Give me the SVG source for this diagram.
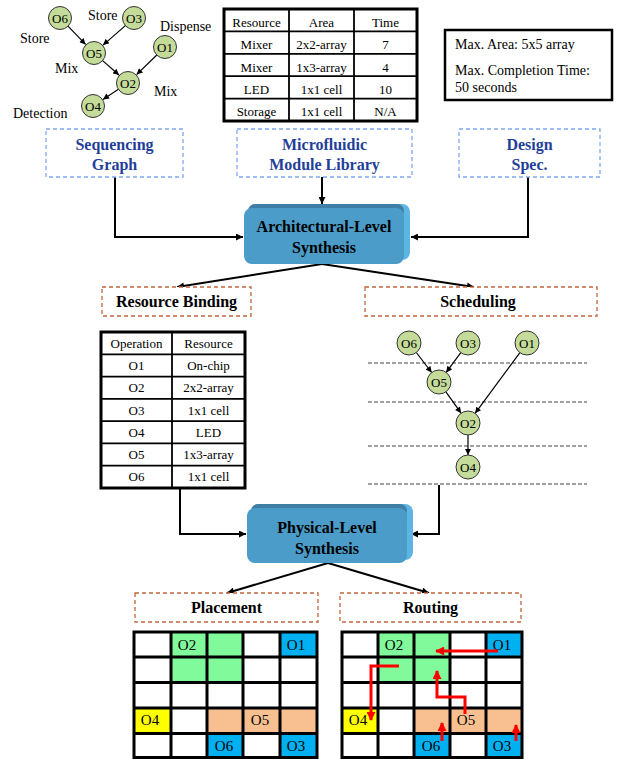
<svg xmlns="http://www.w3.org/2000/svg" width="620" height="759" viewBox="0 0 620 759">
<defs>
<style>
.t{font-family:"Liberation Serif","Times New Roman",serif;fill:#000;}
.s13{font-size:13px;}
.s14{font-size:14px;}
.s15{font-size:15px;}
.b16{font-size:16px;font-weight:bold;}
.blue{fill:#1F3F99;}
.node circle{fill:#C4DB9A;stroke:#333;stroke-width:1;}
.edge{stroke:#000;stroke-width:1.2;fill:none;}
.conn{stroke:#000;stroke-width:2;fill:none;}
.bdash{fill:#fff;stroke:#7FA7F0;stroke-width:1.3;stroke-dasharray:4,3;}
.odash{fill:#fff;stroke:#C0663A;stroke-width:1.3;stroke-dasharray:4,3;}
.gdash{stroke:#A0A0A0;stroke-width:2;stroke-dasharray:4,2;}
.grid{stroke:#000;stroke-width:3;fill:none;}
.red{stroke:#FF0000;stroke-width:3;fill:none;}
</style>
<marker id="ah" viewBox="0 0 10 10" refX="10" refY="5" markerWidth="8" markerHeight="7" markerUnits="userSpaceOnUse" orient="auto"><path d="M0,0 L10,5 L0,10 z" fill="#000"/></marker>
<marker id="ahs" viewBox="0 0 10 10" refX="10" refY="5" markerWidth="7" markerHeight="6" markerUnits="userSpaceOnUse" orient="auto"><path d="M0,0 L10,5 L0,10 z" fill="#000"/></marker>
<marker id="ahr" viewBox="0 0 10 10" refX="9" refY="5" markerWidth="10" markerHeight="9" markerUnits="userSpaceOnUse" orient="auto"><path d="M0,0 L10,5 L0,10 z" fill="#FF0000"/></marker>
</defs>
<rect width="620" height="759" fill="#fff"/>

<!-- Sequencing graph (top-left) -->
<g id="seqgraph">
<g class="edges">
<line class="edge" x1="68" y1="26.2" x2="85.6" y2="44.4" marker-end="url(#ahs)"/>
<line class="edge" x1="125.4" y1="25.6" x2="103" y2="45.1" marker-end="url(#ahs)"/>
<line class="edge" x1="102.6" y1="60.6" x2="119" y2="75" marker-end="url(#ahs)"/>
<line class="edge" x1="156.8" y1="55" x2="136.6" y2="74.6" marker-end="url(#ahs)"/>
<line class="edge" x1="118.4" y1="89.3" x2="103" y2="99.4" marker-end="url(#ahs)"/>
</g>
<g id="g-O6" class="node"><circle cx="60" cy="18" r="11.5"/><text class="t s13" x="60" y="22.5" text-anchor="middle">O6</text></g>
<g id="g-O3" class="node"><circle cx="134" cy="18" r="11.5"/><text class="t s13" x="134" y="22.5" text-anchor="middle">O3</text></g>
<g id="g-O5" class="node"><circle cx="94" cy="53" r="11.5"/><text class="t s13" x="94" y="57.5" text-anchor="middle">O5</text></g>
<g id="g-O1" class="node"><circle cx="165" cy="47" r="11.5"/><text class="t s13" x="165" y="51.5" text-anchor="middle">O1</text></g>
<g id="g-O2" class="node"><circle cx="128" cy="83" r="11.5"/><text class="t s13" x="128" y="87.5" text-anchor="middle">O2</text></g>
<g id="g-O4" class="node"><circle cx="93" cy="106" r="11.5"/><text class="t s13" x="93" y="110.5" text-anchor="middle">O4</text></g>
<text class="t s14" x="20" y="43">Store</text>
<text class="t s14" x="88" y="20">Store</text>
<text class="t s14" x="160" y="31">Dispense</text>
<text class="t s14" x="55" y="73">Mix</text>
<text class="t s14" x="154" y="96">Mix</text>
<text class="t s14" x="13" y="118">Detection</text>
</g>

<!-- Module library table -->
<g id="libtable">
<rect x="224" y="9" width="193" height="112" fill="#fff" stroke="#000" stroke-width="3"/>
<g stroke="#000" stroke-width="1.8">
<line x1="289" y1="9" x2="289" y2="121"/>
<line x1="354" y1="9" x2="354" y2="121"/>
<line x1="224" y1="31.4" x2="417" y2="31.4"/>
<line x1="224" y1="53.8" x2="417" y2="53.8"/>
<line x1="224" y1="76.2" x2="417" y2="76.2"/>
<line x1="224" y1="98.6" x2="417" y2="98.6"/>
</g>
<g class="t s13" text-anchor="middle">
<text x="256.5" y="26.5">Resource</text><text x="321.5" y="26.5">Area</text><text x="385.5" y="26.5">Time</text>
<text x="256.5" y="49">Mixer</text><text x="321.5" y="49">2x2-array</text><text x="385.5" y="49">7</text>
<text x="256.5" y="71.5">Mixer</text><text x="321.5" y="71.5">1x3-array</text><text x="385.5" y="71.5">4</text>
<text x="256.5" y="93.5">LED</text><text x="321.5" y="93.5">1x1 cell</text><text x="385.5" y="93.5">10</text>
<text x="256.5" y="116">Storage</text><text x="321.5" y="116">1x1 cell</text><text x="385.5" y="116">N/A</text>
</g>
</g>

<!-- Design spec box -->
<g id="specbox">
<rect x="445" y="30" width="167" height="70" fill="#fff" stroke="#000" stroke-width="2.5"/>
<text class="t s14" x="455" y="49">Max. Area: 5x5 array</text>
<text class="t s14" x="455" y="75">Max. Completion Time:</text>
<text class="t s14" x="455" y="92">50 seconds</text>
</g>

<!-- Connectors -->
<g id="connectors">
<polyline class="conn" points="115,177 115,237 243,237" marker-end="url(#ah)"/>
<line class="conn" x1="322" y1="177" x2="322" y2="204" marker-end="url(#ah)"/>
<polyline class="conn" points="528,177 528,237 411,237" marker-end="url(#ah)"/>
<line class="conn" x1="322" y1="264" x2="177" y2="287" marker-end="url(#ah)"/>
<line class="conn" x1="322" y1="264" x2="474" y2="287" marker-end="url(#ah)"/>
<polyline class="conn" points="180,488 180,534 246,534" marker-end="url(#ah)"/>
<polyline class="conn" points="439,485 439,534 411,534" marker-end="url(#ah)"/>
<line class="conn" x1="328" y1="563" x2="227" y2="593" marker-end="url(#ah)"/>
<line class="conn" x1="328" y1="563" x2="429" y2="593" marker-end="url(#ah)"/>
</g>

<!-- Input boxes -->
<g id="n-seq">
<rect class="bdash" x="46" y="129" width="137" height="48"/>
<text class="t b16 blue" x="114.5" y="150" text-anchor="middle">Sequencing</text>
<text class="t b16 blue" x="114.5" y="170" text-anchor="middle">Graph</text>
</g>
<g id="n-lib">
<rect class="bdash" x="237" y="129" width="175" height="48"/>
<text class="t b16 blue" x="324.5" y="150" text-anchor="middle">Microfluidic</text>
<text class="t b16 blue" x="324.5" y="170" text-anchor="middle">Module Library</text>
</g>
<g id="n-spec">
<rect class="bdash" x="459" y="129" width="141" height="48"/>
<text class="t b16 blue" x="529.5" y="150" text-anchor="middle">Design</text>
<text class="t b16 blue" x="529.5" y="170" text-anchor="middle">Spec.</text>
</g>

<!-- Architectural-Level Synthesis -->
<g id="n-arch">
<rect x="248" y="204" width="162" height="56" rx="8" fill="#5CB5E2"/>
<rect x="248" y="204" width="156" height="14" rx="7" fill="#3F7FA5"/>
<rect x="244" y="208" width="160" height="56" rx="8" fill="#4B9CC8"/>
<text class="t b16" x="324" y="232" text-anchor="middle">Architectural-Level</text>
<text class="t b16" x="324" y="253" text-anchor="middle">Synthesis</text>
</g>

<!-- Resource Binding / Scheduling -->
<g id="n-bind">
<rect class="odash" x="102" y="287" width="149" height="29"/>
<text class="t b16" x="176.5" y="307" text-anchor="middle">Resource Binding</text>
</g>
<g id="n-sched">
<rect class="odash" x="365" y="287" width="232" height="29"/>
<text class="t b16" x="478" y="307" text-anchor="middle">Scheduling</text>
</g>

<!-- Binding table -->
<g id="bindtable">
<rect x="101" y="332" width="144" height="156" fill="#fff" stroke="#000" stroke-width="3"/>
<g stroke="#000" stroke-width="1.8">
<line x1="172" y1="332" x2="172" y2="488"/>
<line x1="101" y1="354.3" x2="245" y2="354.3"/>
<line x1="101" y1="376.6" x2="245" y2="376.6"/>
<line x1="101" y1="398.9" x2="245" y2="398.9"/>
<line x1="101" y1="421.1" x2="245" y2="421.1"/>
<line x1="101" y1="443.4" x2="245" y2="443.4"/>
<line x1="101" y1="465.7" x2="245" y2="465.7"/>
</g>
<g class="t s13" text-anchor="middle">
<text x="136.5" y="348">Operation</text><text x="208.5" y="348">Resource</text>
<text x="136.5" y="370">O1</text><text x="208.5" y="370">On-chip</text>
<text x="136.5" y="392">O2</text><text x="208.5" y="392">2x2-array</text>
<text x="136.5" y="415">O3</text><text x="208.5" y="415">1x1 cell</text>
<text x="136.5" y="437">O4</text><text x="208.5" y="437">LED</text>
<text x="136.5" y="459">O5</text><text x="208.5" y="459">1x3-array</text>
<text x="136.5" y="481">O6</text><text x="208.5" y="481">1x1 cell</text>
</g>
</g>

<!-- Schedule graph -->
<g id="schedgraph">
<line class="gdash" x1="368" y1="363" x2="587" y2="363"/>
<line class="gdash" x1="368" y1="402" x2="587" y2="402"/>
<line class="gdash" x1="368" y1="446" x2="587" y2="446"/>
<line class="gdash" x1="368" y1="484" x2="587" y2="484"/>
<line class="edge" x1="416.3" y1="352.5" x2="431.7" y2="372.5" marker-end="url(#ahs)"/>
<line class="edge" x1="460.8" y1="352.6" x2="446.2" y2="372.4" marker-end="url(#ahs)"/>
<line class="edge" x1="445.9" y1="391.8" x2="461.1" y2="413.2" marker-end="url(#ahs)"/>
<line class="edge" x1="519.9" y1="352.7" x2="475.1" y2="413.3" marker-end="url(#ahs)"/>
<line class="edge" x1="468" y1="435" x2="468" y2="455" marker-end="url(#ahs)"/>
<g id="s-O6" class="node"><circle cx="409" cy="343" r="12"/><text class="t s13" x="409" y="347.5" text-anchor="middle">O6</text></g>
<g id="s-O3" class="node"><circle cx="468" cy="343" r="12"/><text class="t s13" x="468" y="347.5" text-anchor="middle">O3</text></g>
<g id="s-O1" class="node"><circle cx="527" cy="343" r="12"/><text class="t s13" x="527" y="347.5" text-anchor="middle">O1</text></g>
<g id="s-O5" class="node"><circle cx="439" cy="382" r="12"/><text class="t s13" x="439" y="386.5" text-anchor="middle">O5</text></g>
<g id="s-O2" class="node"><circle cx="468" cy="423" r="12"/><text class="t s13" x="468" y="427.5" text-anchor="middle">O2</text></g>
<g id="s-O4" class="node"><circle cx="468" cy="467" r="12"/><text class="t s13" x="468" y="471.5" text-anchor="middle">O4</text></g>
</g>

<!-- Physical-Level Synthesis -->
<g id="n-phys">
<rect x="251" y="504" width="162" height="56" rx="8" fill="#5CB5E2"/>
<rect x="251" y="504" width="156" height="14" rx="7" fill="#3F7FA5"/>
<rect x="247" y="508" width="160" height="55" rx="8" fill="#4B9CC8"/>
<text class="t b16" x="327" y="533" text-anchor="middle">Physical-Level</text>
<text class="t b16" x="327" y="554" text-anchor="middle">Synthesis</text>
</g>

<!-- Placement / Routing labels -->
<g id="n-place">
<rect class="odash" x="135" y="593" width="183" height="29"/>
<text class="t b16" x="226.5" y="613" text-anchor="middle">Placement</text>
</g>
<g id="n-route">
<rect class="odash" x="340" y="593" width="181" height="29"/>
<text class="t b16" x="430.5" y="613" text-anchor="middle">Routing</text>
</g>

<!-- Placement grid -->
<g id="placegrid">
<rect x="171" y="632" width="72" height="50.5" fill="#80FA9A"/>
<rect x="280" y="632" width="37" height="25" fill="#00B0F0"/>
<rect x="134" y="708" width="37" height="25.5" fill="#FFFF00"/>
<rect x="207" y="708" width="110" height="25.5" fill="#F8C090"/>
<rect x="207" y="733.5" width="36" height="24" fill="#00B0F0"/>
<rect x="280" y="733.5" width="37" height="24" fill="#00B0F0"/>
<g class="grid">
<rect x="134" y="632" width="183" height="125.5"/>
<line x1="171" y1="632" x2="171" y2="757.5"/>
<line x1="207" y1="632" x2="207" y2="757.5"/>
<line x1="243" y1="632" x2="243" y2="757.5"/>
<line x1="280" y1="632" x2="280" y2="757.5"/>
<line x1="134" y1="657" x2="317" y2="657"/>
<line x1="134" y1="682.5" x2="317" y2="682.5"/>
<line x1="134" y1="708" x2="317" y2="708"/>
<line x1="134" y1="733.5" x2="317" y2="733.5"/>
</g>
<g class="t s15" text-anchor="middle">
<text x="187" y="650">O2</text>
<text x="296" y="650">O1</text>
<text x="150" y="725">O4</text>
<text x="260" y="725">O5</text>
<text x="224" y="751">O6</text>
<text x="296" y="751">O3</text>
</g>
</g>

<!-- Routing grid -->
<g id="routegrid">
<rect x="378" y="632" width="72" height="50.5" fill="#80FA9A"/>
<rect x="486" y="632" width="36" height="25" fill="#00B0F0"/>
<rect x="342" y="708" width="36" height="25.5" fill="#FFFF00"/>
<rect x="414" y="708" width="108" height="25.5" fill="#F8C090"/>
<rect x="414" y="733.5" width="36" height="24" fill="#00B0F0"/>
<rect x="486" y="733.5" width="36" height="24" fill="#00B0F0"/>
<g class="grid">
<rect x="342" y="632" width="180" height="125.5"/>
<line x1="378" y1="632" x2="378" y2="757.5"/>
<line x1="414" y1="632" x2="414" y2="757.5"/>
<line x1="450" y1="632" x2="450" y2="757.5"/>
<line x1="486" y1="632" x2="486" y2="757.5"/>
<line x1="342" y1="657" x2="522" y2="657"/>
<line x1="342" y1="682.5" x2="522" y2="682.5"/>
<line x1="342" y1="708" x2="522" y2="708"/>
<line x1="342" y1="733.5" x2="522" y2="733.5"/>
</g>
<g class="t s15" text-anchor="middle">
<text x="394" y="650">O2</text>
<text x="502" y="650">O1</text>
<text x="358" y="725">O4</text>
<text x="466" y="725">O5</text>
<text x="431" y="751">O6</text>
<text x="502" y="751">O3</text>
</g>
<g id="routes">
<line class="red" x1="498" y1="651" x2="436" y2="651" marker-end="url(#ahr)"/>
<polyline class="red" points="399,666 371,666 371,720" marker-end="url(#ahr)"/>
<polyline class="red" points="465,714 465,697 437,697 437,671" marker-end="url(#ahr)"/>
<line class="red" x1="442" y1="741" x2="442" y2="723" marker-end="url(#ahr)"/>
<line class="red" x1="516" y1="741" x2="516" y2="725" marker-end="url(#ahr)"/>
</g>
</g>
</svg>
